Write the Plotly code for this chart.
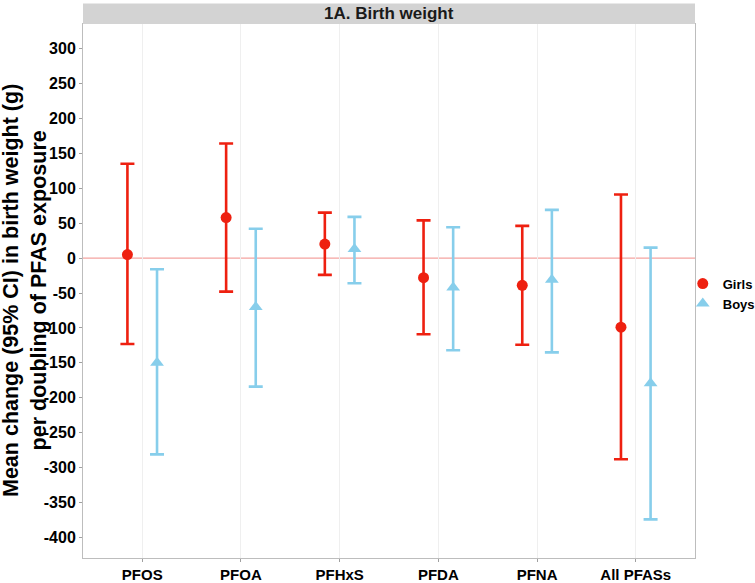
import plotly.graph_objects as go

pollutants = ["PFOS", "PFOA", "PFHxS", "PFDA", "PFNA", "All PFASs"]
girls_est = [5, 58, 20, -28, -39, -99]
girls_lo = [-123, -48, -24, -109, -124, -288]
girls_hi = [135, 164, 65, 54, 46, 91]
boys_est = [-150, -70, 13, -42, -31, -179]
boys_lo = [-281, -184, -36, -132, -135, -374]
boys_hi = [-16, 42, 59, 44, 69, 15]
y_ticks = list(range(-400, 301, 50))

RED = "#EE2010"
BLUE = "#87CEEB"
FONT = "Liberation Sans, Arial, sans-serif"
dodge = 0.15

idx = list(range(len(pollutants)))

T_MARGIN, B_MARGIN = 23.5, 24.5
panel_h = 583 - T_MARGIN - B_MARGIN

fig = go.Figure()
fig.add_trace(go.Scatter(
    x=[i - dodge for i in idx], y=girls_est, mode="markers", name="Girls",
    marker=dict(symbol="circle", size=11, color=RED),
    error_y=dict(type="data", symmetric=False,
                 array=[h - e for h, e in zip(girls_hi, girls_est)],
                 arrayminus=[e - l for e, l in zip(girls_est, girls_lo)],
                 color=RED, thickness=2.6, width=7),
))
fig.add_trace(go.Scatter(
    x=[i + dodge for i in idx], y=boys_est, mode="markers", name="Boys",
    marker=dict(symbol="triangle-up", size=12, color=BLUE),
    error_y=dict(type="data", symmetric=False,
                 array=[h - e for h, e in zip(boys_hi, boys_est)],
                 arrayminus=[e - l for e, l in zip(boys_est, boys_lo)],
                 color=BLUE, thickness=2.6, width=7),
))

# zero reference line
fig.add_shape(type="line", xref="paper", yref="y", x0=0, x1=1, y0=0, y1=0,
              line=dict(color="#F4A3A0", width=1.2), layer="below")
# facet strip
fig.add_shape(type="rect", xref="paper", yref="paper", x0=0, x1=1,
              y0=1.0, y1=1 + 20.5 / panel_h, fillcolor="#D3D3D3",
              line=dict(color="#D3D3D3", width=0))
fig.add_annotation(text="1A. Birth weight", xref="paper", yref="paper",
                   x=0.5, y=1 + 10.5 / panel_h, showarrow=False,
                   font=dict(family=FONT, size=17, color="#1a1a1a", weight="bold"),
                   xanchor="center", yanchor="middle")
# y-axis title
fig.add_annotation(text="Mean change (95% CI) in birth weight (g)<br>per doubling of PFAS exposure",
                   xref="paper", yref="paper", x=(25 - 83) / 612, y=0.5,
                   showarrow=False, textangle=-90,
                   font=dict(family=FONT, size=21.5, color="black", weight="bold"),
                   xanchor="center", yanchor="middle")

fig.update_layout(
    width=755, height=583,
    margin=dict(l=83, r=60, t=T_MARGIN, b=B_MARGIN, autoexpand=False),
    paper_bgcolor="white", plot_bgcolor="white",
    font=dict(family=FONT, color="black"),
    showlegend=True,
    legend=dict(x=0.98, xanchor="left", y=0.495, yanchor="middle",
                font=dict(family=FONT, size=13, color="black", weight="bold"),
                bgcolor="rgba(0,0,0,0)", itemwidth=30, tracegroupgap=0),
    xaxis=dict(range=[-0.6, 5.6], tickmode="array", tickvals=idx, ticktext=pollutants,
               showgrid=True, gridcolor="#EFEFEF", gridwidth=1, zeroline=False,
               ticks="outside", ticklen=3, tickcolor="#A0A0A0", automargin=False,
               tickfont=dict(family=FONT, size=15, color="black", weight="bold"),
               showline=True, linecolor="#BDBDBD", linewidth=1, mirror=True),
    yaxis=dict(range=[335 - panel_h / 0.7, 335], tickmode="array", tickvals=y_ticks,
               ticktext=[str(v) for v in y_ticks],
               showgrid=False, zeroline=False, automargin=False,
               ticks="outside", ticklen=3, tickcolor="#A0A0A0",
               tickfont=dict(family=FONT, size=16, color="black", weight="bold"),
               showline=True, linecolor="#BDBDBD", linewidth=1, mirror=True),
)

fig.write_html("out.html", config={"displayModeBar": False},
               post_script="document.body.style.margin='0';")
